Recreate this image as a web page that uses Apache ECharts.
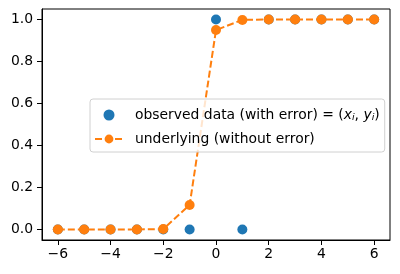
<!DOCTYPE html>
<html><head><meta charset="utf-8">
<script src="https://cdn.jsdelivr.net/npm/echarts@6/dist/echarts.min.js"></script>
<style>html,body{margin:0;padding:0;background:#fff}#c{width:400px;height:274px}</style>
</head><body><div id="c"></div>
<script>
const xs = [-6,-5,-4,-3,-2,-1,0,1,2,3,4,5,6];
const observed = [0,0,0,0,0,0,1,0,1,1,1,1,1];
const underlying = [0,0,0,0,0.002,0.117,0.95,0.998,1,1,1,1,1];
const xTicks = [-6,-4,-2,0,2,4,6];
const yTicks = [0,0.2,0.4,0.6,0.8,1.0];
const names = ['observed data (with error) = (x_i, y_i)', 'underlying (without error)'];

const chart = echarts.init(document.getElementById('c'), null, {renderer:'canvas'});
const font = 'DejaVu Sans';
const fs = 13.9;
chart.setOption({
  animation:false,
  grid:{left:42,right:10,top:9,bottom:34,show:true,borderColor:'#000',borderWidth:1,backgroundColor:'transparent'},
  xAxis:{type:'value',min:-6.6,max:6.6,
    axisLine:{show:true,onZero:false,lineStyle:{color:'#000',width:1}},
    axisTick:{show:true,inside:false,length:5,customValues:xTicks,lineStyle:{color:'#000'}},
    axisLabel:{customValues:xTicks,color:'#000',fontFamily:font,fontSize:fs,margin:7,
      formatter:v=>String(v).replace('-','\u2212')},
    splitLine:{show:false}},
  yAxis:{type:'value',min:-0.05,max:1.05,
    axisLine:{show:true,onZero:false,lineStyle:{color:'#000',width:1}},
    axisTick:{show:true,inside:false,length:5,customValues:yTicks,lineStyle:{color:'#000'}},
    axisLabel:{customValues:yTicks,color:'#000',fontFamily:font,fontSize:fs,margin:9,
      formatter:v=>v.toFixed(1)},
    splitLine:{show:false}},
  legend:{orient:'vertical',left:90,top:99,padding:[9,5,6,4],itemGap:9,itemWidth:28,itemHeight:11,
    borderColor:'#d0d0d0',borderWidth:1,borderRadius:3,backgroundColor:'rgba(255,255,255,0.8)',
    data:[{name:names[0]},{name:names[1]}],
    formatter:function(n){
      if(n===names[0]) return 'observed data (with error) = ({it|x}{sub|i}, {it|y}{sub|i})';
      return n;
    },
    textStyle:{fontFamily:font,fontSize:fs,color:'#000',padding:[0,0,0,7],
      rich:{it:{fontFamily:font,fontSize:fs,fontStyle:'italic',color:'#000'},
            sub:{fontFamily:font,fontSize:9.5,fontStyle:'italic',color:'#000',padding:[6,0,0,0]}}}
  },
  series:[
    {name:names[0],type:'scatter',symbol:'circle',symbolSize:10,
      itemStyle:{color:'#1f77b4',opacity:1},
      data:xs.map((x,i)=>[x,observed[i]]),z:2},
    {name:names[1],type:'line',symbol:'circle',symbolSize:10,showSymbol:true,
      lineStyle:{color:'#ff7f0e',width:2,type:[7,3]},
      itemStyle:{color:'#ff7f0e'},
      data:xs.map((x,i)=>[x,underlying[i]]),z:3}
  ]
});
</script></body></html>
